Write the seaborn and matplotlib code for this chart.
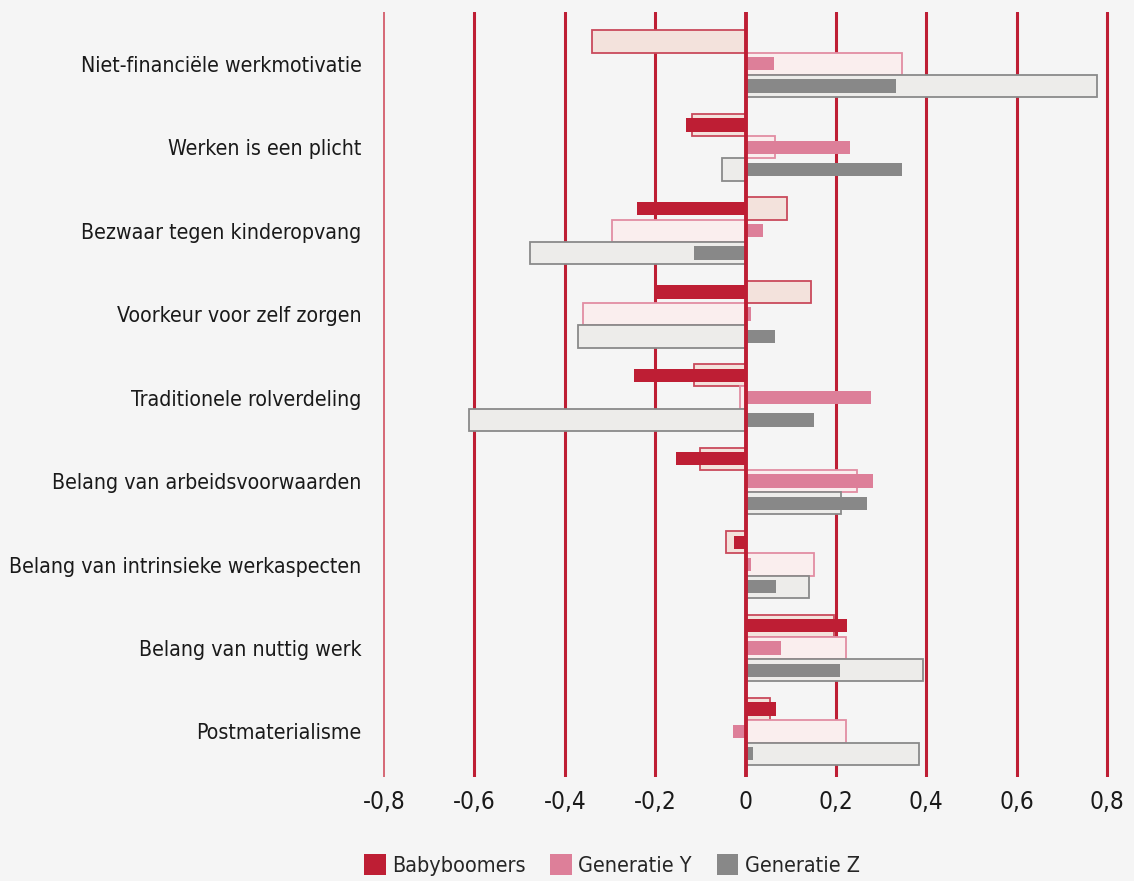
import matplotlib
matplotlib.use("Agg")
import matplotlib.pyplot as plt
from matplotlib.patches import Patch
from matplotlib import font_manager
import numpy as np
import pandas as pd
import seaborn as sns

categories = [
    "Niet-financiële werkmotivatie",
    "Werken is een plicht",
    "Bezwaar tegen kinderopvang",
    "Voorkeur voor zelf zorgen",
    "Traditionele rolverdeling",
    "Belang van arbeidsvoorwaarden",
    "Belang van intrinsieke werkaspecten",
    "Belang van nuttig werk",
    "Postmaterialisme",
]
groups = ["Babyboomers", "Generatie Y", "Generatie Z"]

# wide outlined bars
bb_outline = [-0.340, -0.118, 0.091, 0.145, -0.114, -0.100, -0.044, 0.196, 0.055]
y_outline = [0.346, 0.065, -0.295, -0.359, -0.013, 0.247, 0.151, 0.223, 0.222]
z_outline = [0.778, -0.053, -0.478, -0.370, -0.611, 0.211, 0.141, 0.393, 0.384]
# narrow solid bars
bb_solid = [0.0, -0.132, -0.241, -0.199, -0.246, -0.154, -0.026, 0.225, 0.067]
y_solid = [0.063, 0.232, 0.039, 0.012, 0.277, 0.281, 0.013, 0.079, -0.027]
z_solid = [0.334, 0.346, -0.114, 0.065, 0.151, 0.268, 0.067, 0.210, 0.016]

xticks = [-0.8, -0.6, -0.4, -0.2, 0, 0.2, 0.4, 0.6, 0.8]
xticklabels = ["-0,8", "-0,6", "-0,4", "-0,2", "0", "0,2", "0,4", "0,6", "0,8"]

rows = []
for g, outl, sol in zip(groups, [bb_outline, y_outline, z_outline], [bb_solid, y_solid, z_solid]):
    for c, o, s in zip(categories, outl, sol):
        rows.append({"categorie": c, "groep": g, "outline": o, "solid": s})
df = pd.DataFrame(rows)

solid_colors = ["#BE1E34", "#DD7F99", "#888888"]
fill_colors = ["#F3E2DC", "#FAEEEE", "#EDECEA"]
edge_colors = ["#C94A5C", "#E28DA3", "#8A8A8A"]
red = "#BE1E34"
bg = "#F5F5F5"

sns.set_style("white")
# prefer a condensed face, the original uses a narrow font
condensed = [f for f in font_manager.fontManager.ttflist
             if f.name == "DejaVu Sans" and f.stretch == "condensed" and f.style == "normal"
             and f.weight in (400, "normal")]
if condensed:
    plt.rcParams["font.family"] = ["DejaVu Sans"]
    plt.rcParams["font.stretch"] = "condensed"
    fs = 15.3
else:
    plt.rcParams["font.family"] = ["Liberation Sans", "DejaVu Sans"]
    fs = 14.5

fig = plt.figure(figsize=(11.34, 8.81), dpi=100, facecolor=bg)
ax = fig.add_axes([0.3347, 0.118, 0.6455, 0.868])
ax.set_facecolor(bg)

sns.barplot(data=df, y="categorie", x="outline", hue="groep", hue_order=groups,
            order=categories, orient="h", width=0.8, palette=fill_colors, saturation=1,
            legend=False, ax=ax, zorder=2)
for cont, ec in zip(ax.containers, edge_colors):
    for p in cont:
        p.set_edgecolor(ec)
        p.set_linewidth(1.3)

sns.barplot(data=df, y="categorie", x="solid", hue="groep", hue_order=groups,
            order=categories, orient="h", width=0.8, gap=0.4, palette=solid_colors,
            saturation=1, legend=False, ax=ax, zorder=3, linewidth=0)

for xv in xticks:
    if xv == 0:
        ax.axvline(0, color=red, lw=2.8, zorder=4)
    elif xv == -0.8:
        ax.axvline(xv, color="#D0505F", lw=1.2, zorder=1)
    else:
        ax.axvline(xv, color=red, lw=2.2, zorder=1)

ax.set_xlim(-0.81, 0.81)
ax.set_ylim(8.547, -0.617)
ax.set_xticks(xticks)
ax.set_xticklabels(xticklabels)
ax.tick_params(axis="x", length=0, pad=9, labelsize=17.5, labelcolor="#1a1a1a")
ax.tick_params(axis="y", length=0, pad=13, labelsize=fs, labelcolor="#1a1a1a")
ax.set_xlabel("")
ax.set_ylabel("")
for s in ax.spines.values():
    s.set_visible(False)

handles = [Patch(facecolor=c, edgecolor="none", label=g) for c, g in zip(solid_colors, groups)]
fig.legend(handles=handles, loc="center left", bbox_to_anchor=(0.304, 0.018), ncol=3,
           frameon=False, fontsize=15.5, handlelength=1.0, handleheight=1.1,
           handletextpad=0.3, columnspacing=1.15)

fig.savefig("out.png", dpi=100, facecolor=bg)
